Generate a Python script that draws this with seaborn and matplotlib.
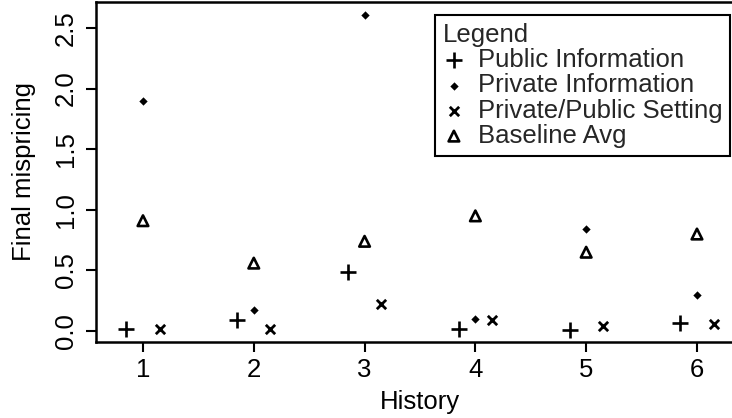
import matplotlib
matplotlib.use("Agg")
import matplotlib.pyplot as plt
import seaborn as sns
import pandas as pd
import numpy as np

# ---- data ----
history = [1, 2, 3, 4, 5, 6]
public_info = [0.02, 0.09, 0.49, 0.02, 0.01, 0.07]
private_info = [1.90, 0.17, 2.61, 0.10, 0.84, 0.30]
private_public = [0.02, 0.02, 0.22, 0.09, 0.04, 0.06]
baseline_avg = [0.91, 0.56, 0.74, 0.95, 0.65, 0.80]
series_names = ["Public Information", "Private Information",
                "Private/Public Setting", "Baseline Avg"]
x_ticks = [1, 2, 3, 4, 5, 6]
y_ticks = [0.0, 0.5, 1.0, 1.5, 2.0, 2.5]
y_tick_labels = ["0.0", "0.5", "1.0", "1.5", "2.0", "2.5"]

sns.set_theme(style="white")
plt.rcParams["font.family"] = ["Liberation Sans", "DejaVu Sans"]

FS = 18.5
fig = plt.figure(figsize=(7.32, 4.18), dpi=100)
W, H = 732, 418
ax = fig.add_axes([96 / W, (H - 342) / H, 647.5 / W, 340.5 / H])

offsets = [-0.15, 0.0, 0.15, 0.0]
values = [public_info, private_info, private_public, baseline_avg]
styles = [
    dict(marker="+", s=120, linewidth=1.9, color="black"),
    dict(marker="D", s=18, linewidth=0, color="black"),
    dict(marker="x", s=45, linewidth=2.0, color="black"),
    dict(marker="^", s=58, linewidth=1.9, facecolor="none", edgecolor="black"),
]
handles = []
for name, vals, off, st in zip(series_names, values, offsets, styles):
    df = pd.DataFrame({"x": np.array(history) + off, "y": vals})
    sns.scatterplot(data=df, x="x", y="y", ax=ax, legend=False, **st)
    handles.append(ax.collections[-1])

ax.set_xlim(0.576, 6.42)
ax.set_ylim(-0.0908, 2.7186)
ax.set_xticks(x_ticks)
ax.set_xticklabels([str(t) for t in x_ticks], fontsize=FS)
ax.set_yticks(y_ticks)
ax.set_yticklabels(y_tick_labels, fontsize=FS, rotation=90, va="center")
ax.tick_params(axis="both", direction="out", length=7.2, width=1.5,
               color="black", labelcolor="black", bottom=True, left=True)
ax.tick_params(axis="x", pad=4)
ax.tick_params(axis="y", pad=6)
for sp in ax.spines.values():
    sp.set_linewidth(1.8)
    sp.set_color("black")

ax.set_xlabel("History", fontsize=FS, color="black", labelpad=6)
ax.set_ylabel("Final mispricing", fontsize=FS, color="black")
ax.yaxis.set_label_coords(-60 / 647.5, 0.5)

leg = ax.legend(handles, series_names, title="Legend", fontsize=FS,
                title_fontsize=FS, loc="upper right",
                bbox_to_anchor=(730 / W, 1 - 15 / H),
                bbox_transform=fig.transFigure, borderaxespad=0,
                frameon=True, fancybox=False, framealpha=1,
                edgecolor="black", borderpad=0.3, handlelength=0.85,
                handletextpad=0.5, labelspacing=0.05, alignment="left")
leg.get_frame().set_linewidth(1.5)

fig.savefig("out.png", dpi=100)
